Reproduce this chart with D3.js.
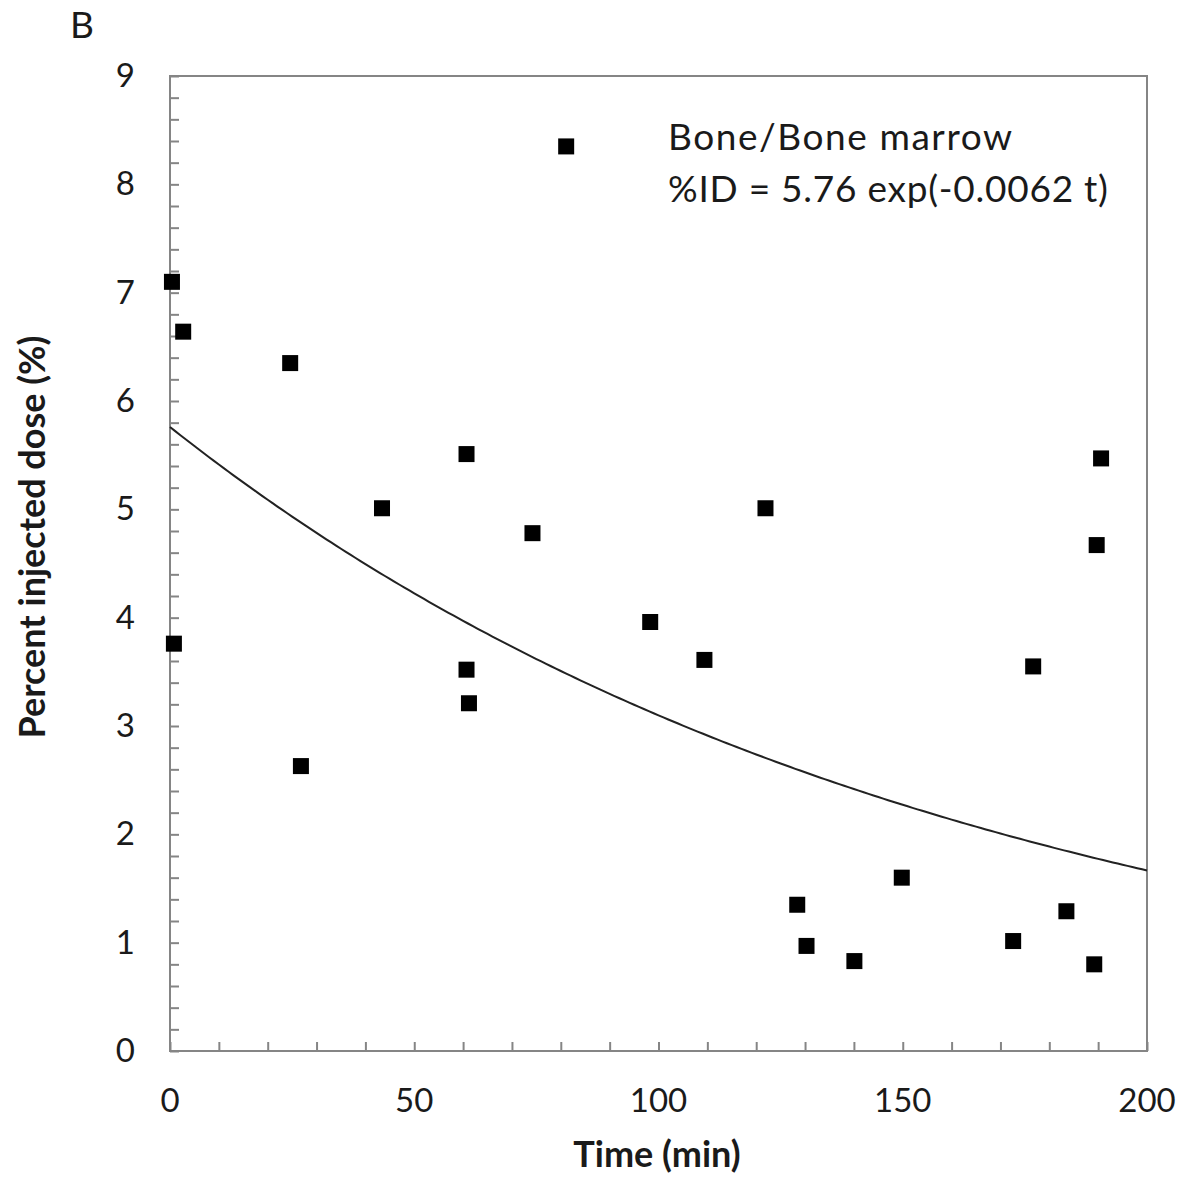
<!DOCTYPE html>
<html><head><meta charset="utf-8">
<script src="https://cdn.jsdelivr.net/npm/d3@7"></script>
<style>html,body{margin:0;padding:0;background:#fff;}svg{display:block;}</style>
</head><body>
<script>
// Data
const timeMin = [0.4, 2.7, 0.8, 24.6, 26.8, 43.4, 60.7, 60.7, 61.2, 74.2, 81.1, 98.3, 109.4, 121.9, 128.4, 130.3, 140.1, 149.8, 172.6, 176.7, 183.5, 189.2, 189.7, 190.6];
const percentID = [7.10, 6.64, 3.76, 6.35, 2.63, 5.01, 5.51, 3.52, 3.21, 4.78, 8.35, 3.96, 3.61, 5.01, 1.35, 0.97, 0.83, 1.60, 1.015, 3.55, 1.29, 0.80, 4.67, 5.47];
const fitA = 5.76, fitK = 0.0062;
const xTickLabels = [0, 50, 100, 150, 200];
const yTickLabels = [0, 1, 2, 3, 4, 5, 6, 7, 8, 9];
const panelLabel = "B";
const titleLines = ["Bone/Bone marrow", "%ID = 5.76 exp(-0.0062 t)"];
const xTitle = "Time (min)";
const yTitle = "Percent injected dose (%)";

const W = 1185, H = 1178;
const L = 170, R = 1147, T = 76, B = 1051;
const font = "Lato, 'Open Sans', sans-serif";
const axisColor = "#858585";

const svg = d3.select("body").append("svg").attr("width", W).attr("height", H);

const x = d3.scaleLinear().domain([0, 200]).range([L, R]);
const y = d3.scaleLinear().domain([0, 9]).range([B, T]);

// frame
svg.append("rect").attr("x", L).attr("y", T).attr("width", R - L).attr("height", B - T)
  .attr("fill", "none").attr("stroke", axisColor).attr("stroke-width", 2);

// x axis minor/major ticks (inward)
const xAxis = d3.axisTop(x).tickValues(d3.range(0, 201, 10)).tickSize(9).tickFormat("");
const gx = svg.append("g").attr("transform", `translate(0,${B})`).call(xAxis);
gx.select(".domain").remove();
gx.selectAll("line").attr("stroke", axisColor).attr("stroke-width", 2);

const yAxis = d3.axisRight(y).tickValues(d3.range(0, 9.001, 0.2).map(v => +v.toFixed(1))).tickSize(9).tickFormat("");
const gy = svg.append("g").attr("transform", `translate(${L},0)`).call(yAxis);
gy.select(".domain").remove();
gy.selectAll("line").attr("stroke", axisColor).attr("stroke-width", 2);

// tick labels
svg.append("g").selectAll("text").data(xTickLabels).join("text")
  .attr("x", d => x(d)).attr("y", 1112).attr("text-anchor", "middle")
  .attr("font-family", font).attr("font-size", 33).attr("fill", "#1a1a1a").text(d => d);
svg.append("g").selectAll("text").data(yTickLabels).join("text")
  .attr("x", 135).attr("y", d => y(d) + 11).attr("text-anchor", "end")
  .attr("font-family", font).attr("font-size", 33).attr("fill", "#1a1a1a").text(d => d);

// fit curve
const curve = d3.range(0, 200.5, 1).map(t => [t, fitA * Math.exp(-fitK * t)]);
svg.append("path").datum(curve)
  .attr("d", d3.line().x(d => x(d[0])).y(d => y(d[1])))
  .attr("fill", "none").attr("stroke", "#222").attr("stroke-width", 2);

// points
const sz = 16;
svg.append("g").selectAll("rect").data(timeMin.map((t, i) => [t, percentID[i]])).join("rect")
  .attr("x", d => x(d[0]) - sz / 2).attr("y", d => y(d[1]) - sz / 2)
  .attr("width", sz).attr("height", sz).attr("fill", "#000");

// annotation
svg.append("text").attr("x", 668).attr("y", 150).attr("font-family", font).attr("font-size", 37)
  .attr("textLength", 344).attr("lengthAdjust", "spacing")
  .attr("fill", "#1a1a1a").text(titleLines[0]);
svg.append("text").attr("x", 668).attr("y", 202).attr("font-family", font).attr("font-size", 37)
  .attr("textLength", 440).attr("lengthAdjust", "spacing")
  .attr("fill", "#1a1a1a").text(titleLines[1]);

// panel label
svg.append("text").attr("x", 70).attr("y", 38).attr("font-family", font).attr("font-size", 37)
  .attr("fill", "#1a1a1a").text(panelLabel);

// axis titles
svg.append("text").attr("x", 657).attr("y", 1167).attr("text-anchor", "middle")
  .attr("font-family", font).attr("font-weight", "bold").attr("font-size", 36)
  .attr("fill", "#1a1a1a").text(xTitle);
svg.append("text").attr("transform", `translate(45,${537}) rotate(-90)`).attr("text-anchor", "middle")
  .attr("font-family", font).attr("font-weight", "bold").attr("font-size", 36)
  .attr("fill", "#1a1a1a").text(yTitle);
</script>
</body></html>
